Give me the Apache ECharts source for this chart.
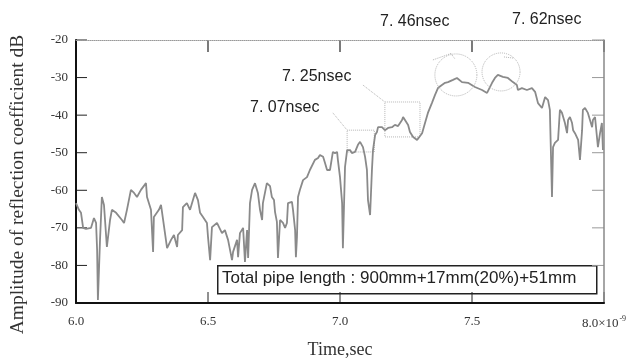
<!DOCTYPE html>
<html>
<head>
<meta charset="utf-8">
<script src="https://cdn.jsdelivr.net/npm/echarts@6/dist/echarts.min.js"></script>
<style>
  html, body { margin: 0; padding: 0; background: #fff; }
  #chart { width: 640px; height: 358px; }
</style>
</head>
<body>
<div id="chart"></div>
<script>
// time axis (x10^-9 sec)
var timeNs = [
  6.000, 6.011, 6.019, 6.027, 6.038, 6.057, 6.068, 6.076, 6.080, 6.083,
  6.091, 6.098, 6.106, 6.117, 6.129, 6.136, 6.152, 6.174, 6.182, 6.193,
  6.208, 6.220, 6.231, 6.246, 6.265, 6.269, 6.284, 6.292, 6.295, 6.314,
  6.322, 6.330, 6.345, 6.360, 6.371, 6.383, 6.386, 6.402, 6.405, 6.420,
  6.432, 6.443, 6.451, 6.462, 6.470, 6.481, 6.496, 6.500, 6.508, 6.515,
  6.534, 6.553, 6.564, 6.576, 6.591, 6.595, 6.610, 6.614, 6.621, 6.633,
  6.640, 6.648, 6.652, 6.659, 6.667, 6.678, 6.689, 6.697, 6.705, 6.708,
  6.723, 6.735, 6.742, 6.750, 6.754, 6.761, 6.765, 6.773, 6.784, 6.792,
  6.799, 6.803, 6.818, 6.822, 6.830, 6.833, 6.837, 6.841, 6.848, 6.860,
  6.875, 6.886, 6.905, 6.917, 6.924, 6.936, 6.943, 6.951, 6.962, 6.970,
  6.973, 6.981, 6.989, 6.992, 7.000, 7.008, 7.011, 7.019, 7.027, 7.038,
  7.045, 7.057, 7.068, 7.076, 7.087, 7.095, 7.102, 7.106, 7.114, 7.121,
  7.125, 7.133, 7.140, 7.144, 7.159, 7.170, 7.182, 7.197, 7.208, 7.220,
  7.235, 7.239, 7.246, 7.258, 7.265, 7.277, 7.292, 7.295, 7.311, 7.322,
  7.333, 7.348, 7.360, 7.371, 7.386, 7.398, 7.409, 7.428, 7.443, 7.462,
  7.485, 7.511, 7.538, 7.557, 7.576, 7.587, 7.598, 7.617, 7.636, 7.655,
  7.670, 7.674, 7.689, 7.708, 7.727, 7.739, 7.750, 7.765, 7.777, 7.788,
  7.795, 7.803, 7.807, 7.814, 7.826, 7.833, 7.841, 7.852, 7.860, 7.864,
  7.871, 7.879, 7.883, 7.890, 7.902, 7.909, 7.917, 7.920, 7.928, 7.939,
  7.955, 7.958, 7.966, 7.977, 7.985, 7.992, 7.996
];
// amplitude of reflection coefficient (dB)
var ampDb = [
  -63.4, -65.2, -66.0, -70.0, -70.3, -70.0, -67.4, -68.7, -75.9, -89.2,
  -73.2, -61.8, -63.9, -75.1, -67.9, -65.2, -66.0, -67.9, -68.7, -65.2,
  -59.9, -60.7, -61.8, -59.9, -58.1, -61.8, -65.2, -76.4, -67.1, -65.2,
  -63.9, -67.9, -75.4, -73.2, -71.9, -75.1, -71.9, -70.6, -64.5, -63.4,
  -65.2, -62.6, -60.7, -62.6, -66.0, -67.1, -68.7, -72.4, -78.6, -69.8,
  -68.7, -71.4, -70.6, -73.2, -78.6, -76.4, -73.2, -77.8, -71.4, -70.0,
  -79.1, -70.6, -78.0, -63.4, -59.9, -58.1, -60.7, -65.2, -67.9, -63.4,
  -58.1, -58.9, -61.8, -62.6, -65.8, -68.4, -78.0, -67.9, -68.7, -70.0,
  -68.7, -63.4, -63.1, -65.2, -70.6, -77.8, -72.4, -61.8, -59.9, -57.3,
  -56.5, -54.6, -51.9, -51.4, -50.6, -51.1, -52.7, -54.6, -54.6, -51.1,
  -49.8, -50.1, -49.8, -51.9, -56.5, -63.4, -75.4, -53.8, -49.3, -49.3,
  -50.1, -49.8, -47.9, -47.1, -48.5, -51.1, -54.6, -62.6, -66.6, -54.6,
  -49.3, -45.3, -44.5, -43.2, -43.2, -44.0, -43.4, -43.2, -42.6, -42.9,
  -41.3, -40.5, -40.8, -42.6, -44.5, -45.8, -46.6, -46.1, -44.8, -42.1,
  -39.4, -36.8, -34.6, -32.8, -32.0, -31.4, -31.2, -30.6, -30.1, -31.2,
  -31.4, -32.5, -33.3, -34.1, -31.4, -30.1, -29.3, -29.8, -30.1, -31.2,
  -32.0, -33.3, -32.8, -33.3, -32.8, -33.8, -36.8, -38.1, -35.2, -36.0,
  -38.6, -61.8, -48.5, -47.4, -46.6, -38.6, -39.4, -42.1, -44.8, -41.3,
  -40.5, -42.1, -44.0, -44.8, -46.6, -51.9, -44.0, -38.6, -38.1, -39.4,
  -43.2, -41.3, -40.5, -48.5, -44.8, -42.1, -49.3
];
var yTicks = [-90, -80, -70, -60, -50, -40, -30, -20];
var xTicks = [6.0, 6.5, 7.0, 7.5, 8.0];
var peakLabels = ["7. 07nsec", "7. 25nsec", "7. 46nsec", "7. 62nsec"];
var noteText = "Total pipe length : 900mm+17mm(20%)+51mm";

var myChart = echarts.init(document.getElementById("chart"));
var _data = [];
for (var i = 0; i < timeNs.length; i++) {
  _data.push([timeNs[i], ampDb[i]]);
}

var serif = "Liberation Serif";
var sans = "Liberation Sans";
var dotted = { color: "#b5b5b5", width: 1, type: "dotted" };

var option = {
  animation: false,
  backgroundColor: "#fff",
  grid: { left: 76, right: 36, top: 40, bottom: 55, outerBoundsMode: "none", containLabel: false },
  xAxis: [
    {
      type: "value",
      min: 6,
      max: 8,
      interval: 0.5,
      name: "Time,sec",
      nameLocation: "middle",
      nameGap: 38,
      nameTextStyle: { fontFamily: serif, fontSize: 18, color: "#333" },
      axisLine: { lineStyle: { color: "#111", width: 2 } },
      axisTick: { show: false },
      splitLine: { show: false },
      axisLabel: {
        margin: 12,
        fontFamily: serif,
        fontSize: 13,
        color: "#333",
        formatter: function (v) {
          if (v === xTicks[xTicks.length - 1]) return "{a|8.0×10}{s|-9}";
          return v.toFixed(1);
        },
        rich: {
          a: { fontFamily: serif, fontSize: 13, color: "#333" },
          s: { fontFamily: serif, fontSize: 8, color: "#333", padding: [0, 0, 10, 1] }
        }
      }
    },
    {
      type: "value",
      position: "top",
      min: 6,
      max: 8,
      interval: 0.5,
      axisLine: { show: true, lineStyle: { color: "#999", width: 1, type: "dotted" } },
      axisTick: { show: false },
      axisLabel: { show: false },
      splitLine: { show: false }
    }
  ],
  yAxis: [
    {
      type: "value",
      min: -90,
      max: -20,
      interval: 10,
      name: "Amplitude of reflection coefficient dB",
      nameLocation: "middle",
      nameGap: 48,
      nameTextStyle: { fontFamily: serif, fontSize: 19.5, color: "#333", padding: [0, 26, 0, 0] },
      axisLine: { show: true, lineStyle: { color: "#111", width: 2 } },
      axisTick: { show: false },
      splitLine: { show: false },
      axisLabel: { margin: 8, fontFamily: serif, fontSize: 13, color: "#333" }
    },
    {
      type: "value",
      position: "right",
      min: -90,
      max: -20,
      interval: 10,
      axisLine: { show: true, lineStyle: { color: "#888", width: 1.5 } },
      axisTick: { show: false },
      axisLabel: { show: false },
      splitLine: { show: false }
    }
  ],
  series: [
    {
      type: "line",
      data: _data,
      showSymbol: false,
      symbol: "none",
      lineStyle: { color: "#8a8a8a", width: 1.8 },
      markArea: {
        silent: true,
        itemStyle: {
          color: "rgba(0,0,0,0)",
          borderColor: "#b5b5b5",
          borderWidth: 1,
          borderType: "dotted"
        },
        data: [
          [{ coord: [7.027, -44.0] }, { coord: [7.130, -49.8] }],
          [{ coord: [7.170, -36.5] }, { coord: [7.303, -45.8] }]
        ]
      },
      markPoint: {
        silent: true,
        symbol: "circle",
        label: { show: false },
        itemStyle: {
          color: "rgba(0,0,0,0)",
          borderColor: "#b5b5b5",
          borderWidth: 1,
          borderType: "dotted"
        },
        data: [
          { coord: [7.439, -29.3], symbolSize: 42 },
          { coord: [7.610, -28.5], symbolSize: 38 }
        ]
      },
      markLine: {
        silent: true,
        symbol: "none",
        label: { show: false },
        lineStyle: dotted,
        data: [
          [{ coord: [6.973, -39.4] }, { coord: [7.027, -44.0] }],
          [{ coord: [7.087, -32.0] }, { coord: [7.170, -36.5] }],
          [{ coord: [7.352, -25.3] }, { coord: [7.420, -23.6] }],
          [{ coord: [7.420, -23.6] }, { coord: [7.435, -25.0] }],
          [{ coord: [7.655, -24.8] }, { coord: [7.620, -24.5] }]
        ]
      }
    }
  ],
  graphic: [
    { type: "text", left: 250, top: 100, style: { text: peakLabels[0], font: "16px " + sans, fill: "#222" } },
    { type: "text", left: 282, top: 69, style: { text: peakLabels[1], font: "16px " + sans, fill: "#222" } },
    { type: "text", left: 380, top: 14, style: { text: peakLabels[2], font: "16px " + sans, fill: "#222" } },
    { type: "text", left: 512, top: 12, style: { text: peakLabels[3], font: "16px " + sans, fill: "#222" } },
    {
      type: "rect",
      left: 217,
      top: 265,
      shape: { width: 379, height: 28 },
      style: { fill: "#fff", stroke: "#222", lineWidth: 1.5 }
    },
    { type: "text", left: 222, top: 270, style: { text: noteText, font: "17px " + sans, fill: "#222" } }
  ]
};
myChart.setOption(option);

// inward tick marks on all four sides, placed through the chart's own axes
var ticks = [];
var x0 = myChart.convertToPixel({ xAxisIndex: 0 }, xTicks[0]);
var x1 = myChart.convertToPixel({ xAxisIndex: 0 }, xTicks[xTicks.length - 1]);
var yBot = myChart.convertToPixel({ yAxisIndex: 0 }, yTicks[0]);
var yTop = myChart.convertToPixel({ yAxisIndex: 0 }, yTicks[yTicks.length - 1]);
xTicks.forEach(function (v) {
  var px = myChart.convertToPixel({ xAxisIndex: 0 }, v);
  ticks.push({ type: "line", shape: { x1: px, y1: yBot, x2: px, y2: yBot - 11 }, style: { stroke: "#222", lineWidth: 1 } });
  ticks.push({ type: "line", shape: { x1: px, y1: yTop, x2: px, y2: yTop + 12 }, style: { stroke: "#222", lineWidth: 1.2 } });
});
yTicks.forEach(function (v) {
  var py = myChart.convertToPixel({ yAxisIndex: 0 }, v);
  ticks.push({ type: "line", shape: { x1: x0, y1: py, x2: x0 + 11, y2: py }, style: { stroke: "#222", lineWidth: 1 } });
  ticks.push({ type: "line", shape: { x1: x1, y1: py, x2: x1 - 12, y2: py }, style: { stroke: "#999", lineWidth: 1 } });
});
myChart.setOption({ graphic: option.graphic.concat(ticks) });
</script>
</body>
</html>
